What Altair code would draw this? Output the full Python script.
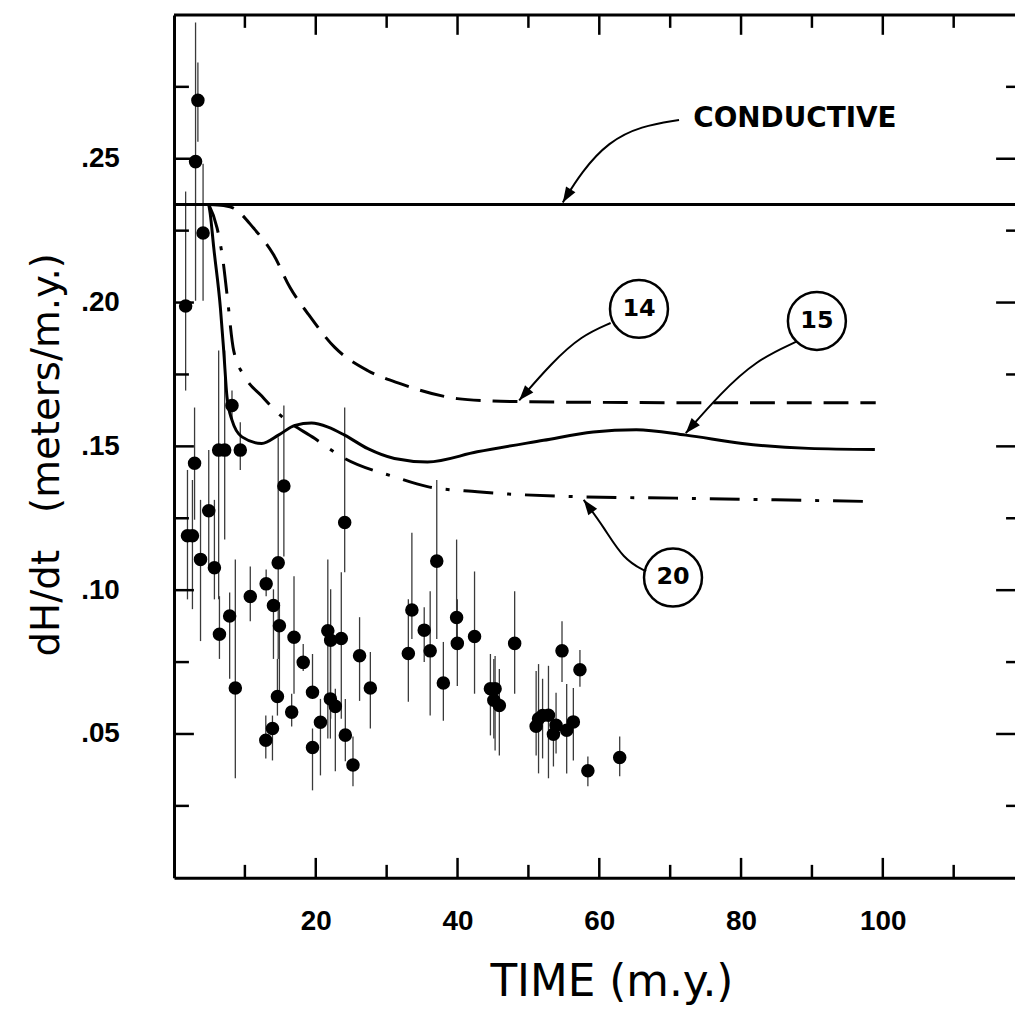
import altair as alt
import pandas as pd

# ---------------- data ----------------
# observed dH/dt points: time (m.y.), value, error-bar low, error-bar high
pt_t = [3.37, 3.04, 4.1, 1.64, 2.9, 1.9, 2.6, 3.74, 4.9, 5.7, 6.3, 7.15, 9.35, 8.18,
        15.5, 14.7, 13.0, 10.76, 14.03, 7.85, 14.87, 6.41, 16.93, 21.7, 22.1, 23.6,
        24.08, 26.18, 18.23, 27.7, 8.65, 14.59, 19.54, 22.06, 22.76, 16.6, 20.66,
        13.89, 12.95, 24.17, 19.54, 25.25, 37.07, 33.56, 35.3, 36.14, 33.06, 39.87,
        39.97, 42.4, 38.0, 44.64, 45.3, 45.12, 45.9, 48.06, 54.74, 57.27, 51.43,
        51.09, 52.83, 53.9, 53.53, 55.4, 56.34, 58.39, 62.88, 52.0]
pt_v = [0.2703, 0.249, 0.2242, 0.1988, 0.1441, 0.1189, 0.1189, 0.1107, 0.1276, 0.1078,
        0.1487, 0.1487, 0.1487, 0.1642, 0.1362, 0.1095, 0.1022, 0.0978, 0.0947, 0.091,
        0.0876, 0.0847, 0.0836, 0.0859, 0.0826, 0.0832, 0.1235, 0.0772, 0.0749, 0.066,
        0.066, 0.063, 0.0645, 0.0622, 0.0596, 0.0576, 0.0541, 0.0519, 0.0478, 0.0496,
        0.0453, 0.0392, 0.1101, 0.0931, 0.0861, 0.0789, 0.078, 0.0905, 0.0815, 0.0839,
        0.0677, 0.0657, 0.0657, 0.0617, 0.0599, 0.0815, 0.0789, 0.0723, 0.0553, 0.0527,
        0.0565, 0.053, 0.0499, 0.0513, 0.0542, 0.0372, 0.0418, 0.0564]
pt_lo = [0.2559, 0.2006, 0.2006, 0.1694, 0.1245, 0.0968, 0.0934, 0.0823, 0.1082, 0.0968,
         0.0968, 0.1176, 0.1418, 0.1591, 0.1117, 0.0761, 0.0979, 0.0892, 0.0761, 0.0692,
         0.0647, 0.0761, 0.064, 0.0484, 0.0553, 0.0553, 0.1062, 0.0615, 0.0719, 0.0519,
         0.0346, 0.0564, 0.0622, 0.0484, 0.037, 0.0526, 0.0356, 0.0408, 0.0415, 0.0405,
         0.0304, 0.0318, 0.083, 0.083, 0.075, 0.0564, 0.0612, 0.083, 0.0667, 0.064,
         0.0546, 0.0495, 0.0443, 0.0484, 0.0425, 0.064, 0.0681, 0.0664, 0.0363, 0.0425,
         0.0346, 0.0432, 0.0387, 0.0363, 0.0408, 0.0318, 0.0353, 0.0415]
pt_hi = [0.2835, 0.2974, 0.2483, 0.2386, 0.1635, 0.1418, 0.1383, 0.1314, 0.1487, 0.1314,
         0.1833, 0.1833, 0.1584, 0.1694, 0.1642, 0.1532, 0.1072, 0.1082, 0.1003, 0.0992,
         0.0958, 0.0979, 0.1048, 0.1107, 0.1003, 0.1062, 0.1635, 0.0906, 0.0813, 0.0785,
         0.1107, 0.0761, 0.0778, 0.083, 0.0657, 0.064, 0.0622, 0.0564, 0.0564, 0.0622,
         0.0519, 0.0491, 0.1383, 0.12, 0.0941, 0.0996, 0.0968, 0.1176, 0.0968, 0.1065,
         0.082, 0.0778, 0.0771, 0.0761, 0.0726, 0.0996, 0.0892, 0.0792, 0.0743, 0.0719,
         0.0737, 0.0643, 0.0564, 0.0674, 0.066, 0.0422, 0.0491, 0.0692]

# model curves
conductive_v = 0.2341

c14_t = [5.0, 7.0, 8.42, 11.22, 14.03, 16.37, 18.93, 22.68, 27.35, 32.02, 39.97,
         45, 50, 60, 70, 80, 90, 99]
c14_v = [0.2341, 0.2337, 0.2328, 0.2259, 0.2167, 0.2052, 0.196, 0.1844, 0.1763,
         0.1717, 0.1666, 0.1658, 0.1655, 0.1653, 0.1652, 0.1652, 0.1652, 0.1652]

c15_t = [4.9, 5.1, 5.61, 6.55, 7.01, 7.48, 8.18, 9.58, 12.38, 14.73, 17.07, 19.4,
         21.74, 24.08, 27.35, 31.1, 35.76, 42.78, 52.13, 59.14, 65.22, 72.23, 80.18,
         89.52, 98.88]
c15_v = [0.2341, 0.231, 0.219, 0.198, 0.1833, 0.1671, 0.1591, 0.1533, 0.151, 0.1539,
         0.1573, 0.1581, 0.1567, 0.1539, 0.1492, 0.1458, 0.1446, 0.1481, 0.1521,
         0.155, 0.1558, 0.1539, 0.151, 0.1493, 0.1489]

c20_t = [4.9, 6.08, 6.92, 7.48, 8.42, 10.05, 12.38, 14.73, 19.87, 24.08, 31.1,
         35.76, 42.78, 56.8, 70.83, 84.85, 98.88]
c20_v = [0.2341, 0.2259, 0.2144, 0.2028, 0.1833, 0.174, 0.1675, 0.1614, 0.1527,
         0.1458, 0.1394, 0.136, 0.1342, 0.1325, 0.132, 0.1314, 0.1308]

# annotations
label_names = ["14", "15", "20"]
label_t = [65.6, 90.7, 70.4]
label_v = [0.1978, 0.1936, 0.1044]
cond_text = "CONDUCTIVE"
cond_t = [87.6]
cond_v = [0.2638]

arrow_id = ["c"] * 5 + ["a14"] * 4 + ["a15"] * 4 + ["a20"] * 4
arrow_t = [71.25, 65.9, 61.3, 57.5, 54.85,
           61.6, 57.5, 53.3, 48.7,
           87.8, 82.05, 77.1, 72.2,
           66.6, 63.4, 60.6, 57.8]
arrow_v = [0.2635, 0.2614, 0.2559, 0.2455, 0.2348,
           0.1929, 0.1885, 0.1791, 0.166,
           0.1864, 0.1798, 0.1684, 0.1546,
           0.1065, 0.1107, 0.1221, 0.1314]
head_t = [54.85, 48.7, 72.2, 57.8]
head_v = [0.2348, 0.166, 0.1546, 0.1314]
head_angle = [211.5, 221, 221, 323.5]

# axis ticks
x_major = [20, 40, 60, 80, 100]
x_minor = [10, 30, 50, 70, 90, 110]
y_major = [0.05, 0.10, 0.15, 0.20, 0.25]
y_minor = [0.025, 0.075, 0.125, 0.175, 0.225, 0.275]

# ---------------- chart ----------------
W, H = 846, 868
XMAX = 118.65
FONT = "DejaVu Sans"
LFONT = "Liberation Sans"

xs = alt.Scale(domain=[0, XMAX], nice=False, zero=False)
ys = alt.Scale(domain=[0, 0.30], nice=False, zero=False)

pts = pd.DataFrame({"t": pt_t, "v": pt_v, "lo": pt_lo, "hi": pt_hi})

X_TITLE = "TIME (m.y.)"
Y_TITLE = "dH/dt\u00a0\u00a0\u00a0(meters/m.y.)"

x_axis = alt.Axis(values=x_major, format="d", ticks=False, grid=False,
                  domain=True, domainWidth=3, domainColor="black",
                  labelFont=LFONT, labelFontWeight="bold", labelFontSize=28,
                  labelColor="black", labelPadding=30, labelFlush=False,
                  titleFont=FONT, titleFontWeight="normal",
                  titleFontSize=44, titleColor="black", titleX=440, titleY=105,
                  titleBaseline="middle", titleAlign="center")
y_axis = alt.Axis(values=y_major, ticks=False, grid=False,
                  domain=True, domainWidth=3, domainColor="black",
                  labelExpr="substring(format(datum.value, '.2f'), 1)",
                  labelFont=LFONT, labelFontWeight="bold", labelFontSize=28,
                  labelColor="black", labelPadding=55, labelFlush=False,
                  titleFont=FONT,
                  titleFontWeight="normal", titleFontSize=39, titleColor="black",
                  titleX=-128, titleY=442, titleAngle=270,
                  titleBaseline="middle", titleAlign="center")


def X(field):
    return alt.X(field, scale=xs, axis=x_axis, title=X_TITLE)


def Y(field):
    return alt.Y(field, scale=ys, axis=y_axis, title=Y_TITLE)


errbars = alt.Chart(pts).mark_rule(strokeWidth=1.3, color="#3a3a3a").encode(
    x=X("t:Q"), y=Y("lo:Q"), y2="hi:Q",
)
points = alt.Chart(pts).mark_circle(size=185, color="black", opacity=1).encode(
    x=X("t:Q"), y=Y("v:Q"),
)


def curve(ts, vs, dash):
    df = pd.DataFrame({"t": ts, "v": vs})
    kw = dict(strokeWidth=3, color="black", interpolate="monotone")
    if dash:
        kw["strokeDash"] = dash
    return alt.Chart(df).mark_line(**kw).encode(x=X("t:Q"), y=Y("v:Q"))


line14 = curve(c14_t, c14_v, [25, 12])
line15 = curve(c15_t, c15_v, None)
line20 = curve(c20_t, c20_v, [30, 14, 4, 14])

cond = alt.Chart(pd.DataFrame({"v": [conductive_v]})).mark_rule(
    strokeWidth=3, color="black").encode(y=Y("v:Q"))
top = alt.Chart(pd.DataFrame({"v": [0.30]})).mark_rule(
    strokeWidth=3, color="black").encode(y=Y("v:Q"))


def yticks(vals, x0, x1):
    return alt.Chart(pd.DataFrame({"v": vals})).mark_rule(
        strokeWidth=2.5, color="black").encode(
        y=Y("v:Q"), x=alt.value(x0), x2=alt.value(x1))


def xticks(vals, y0, y1):
    return alt.Chart(pd.DataFrame({"t": vals})).mark_rule(
        strokeWidth=2.5, color="black").encode(
        x=X("t:Q"), y=alt.value(y0), y2=alt.value(y1))


ticks = [
    yticks(y_major, 0, 20), yticks(y_minor, 0, 15),
    yticks(y_major, W - 19, W), yticks(y_minor, W - 9, W),
    xticks(x_major, H, H - 20), xticks(x_minor, H, H - 13),
    xticks(x_major, 0, 20), xticks(x_minor, 0, 13),
]

arrows_df = pd.DataFrame({"id": arrow_id, "t": arrow_t, "v": arrow_v,
                          "o": list(range(len(arrow_t)))})
arrows = alt.Chart(arrows_df).mark_line(strokeWidth=2, color="black",
                                        interpolate="basis").encode(
    x=X("t:Q"), y=Y("v:Q"), detail="id:N", order="o:Q",
)
heads = alt.Chart(pd.DataFrame({"t": head_t, "v": head_v, "a": head_angle})).mark_point(
    shape="M0,0L-0.45,1.25L0.45,1.25Z", size=600, filled=True, color="black",
    opacity=1).encode(
    x=X("t:Q"), y=Y("v:Q"), angle=alt.Angle("a:Q", scale=None),
)

lab_df = pd.DataFrame({"name": label_names, "t": label_t, "v": label_v})
rings = alt.Chart(lab_df).mark_point(shape="circle", size=3400, filled=False,
                                     strokeWidth=2.5, color="black", opacity=1).encode(
    x=X("t:Q"), y=Y("v:Q"),
)
ring_text = alt.Chart(lab_df).mark_text(font=FONT, fontWeight="bold", fontSize=24,
                                        color="black", baseline="middle",
                                        align="center").encode(
    x=X("t:Q"), y=Y("v:Q"), text="name:N",
)
cond_label = alt.Chart(pd.DataFrame({"t": cond_t, "v": cond_v, "s": [cond_text]})).mark_text(
    font=FONT, fontWeight="bold", fontSize=28, color="black", baseline="middle",
    align="center").encode(
    x=X("t:Q"), y=Y("v:Q"), text="s:N",
)

chart = alt.layer(
    errbars, points, line14, line15, line20, cond, top, *ticks,
    arrows, heads, rings, ring_text, cond_label,
).properties(
    width=W, height=H,
    autosize=alt.AutoSizeParams(type="none"),
    padding={"left": 167, "top": 4, "right": 0, "bottom": 126},
    background="white",
).configure_view(stroke=None)

chart.save("out.html", embed_options={"renderer": "svg", "actions": False})
